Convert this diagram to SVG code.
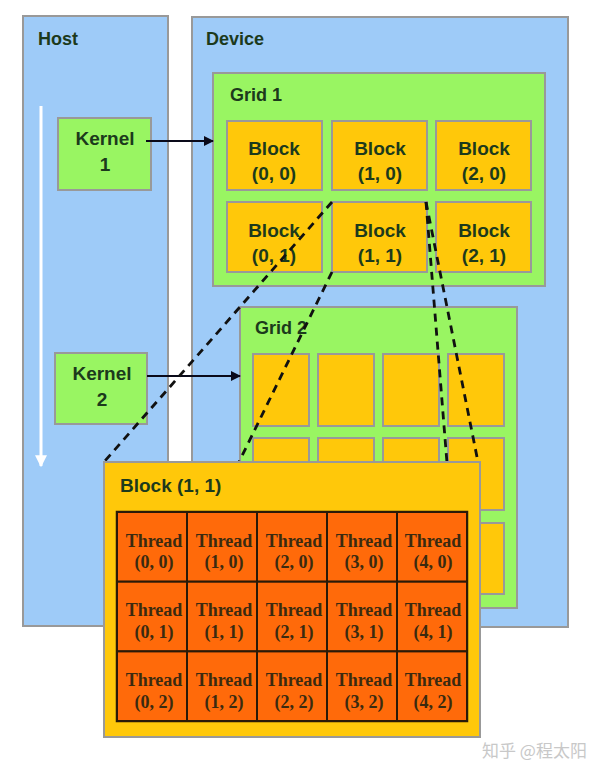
<svg xmlns="http://www.w3.org/2000/svg" width="612" height="779" viewBox="0 0 612 779">
<style>
.host{fill:#9ECBF8;stroke:#999;stroke-width:2}
.grid{fill:#99F562;stroke:#999;stroke-width:2}
.blk{fill:#FFC80A;stroke:#999;stroke-width:2}
.thr{fill:#FF6A0A;stroke:#2a1a08;stroke-width:2}
.t{font-family:"Liberation Sans",Arial,sans-serif;font-weight:bold;fill:#1c3a1c;font-size:18px}
.b{font-size:19px}
.c{text-anchor:middle}
.th{font-family:"Liberation Serif","Times New Roman",serif;font-weight:bold;fill:#3a2a10;font-size:18px;text-anchor:middle}
.dash{stroke:#111;stroke-width:2.8;stroke-dasharray:8 6;fill:none}
.arr{stroke:#0a0a1a;stroke-width:2;fill:none;marker-end:url(#ah)}
</style>
<defs>
<marker id="ah" viewBox="0 0 10 10" refX="9" refY="5" markerWidth="5" markerHeight="5" orient="auto" markerUnits="strokeWidth"><path d="M0,0 L10,5 L0,10 z" fill="#0a0a1a"/></marker>
<marker id="wh" viewBox="0 0 10 10" refX="9" refY="5" markerWidth="4" markerHeight="4" orient="auto" markerUnits="strokeWidth"><path d="M0,0 L10,5 L0,10 z" fill="#fff"/></marker>
</defs>
<rect width="612" height="779" fill="#fff"/>
<g id="host">
<rect class="host" x="23" y="16" width="145" height="610"/>
<text class="t" x="38" y="45">Host</text>
<line x1="41" y1="106" x2="41" y2="466" stroke="#fff" stroke-width="3" marker-end="url(#wh)"/>
</g>
<g id="device">
<rect class="host" x="192" y="17" width="376" height="610"/>
<text class="t" x="206" y="45">Device</text>
</g>
<g id="kernel1">
<rect class="grid" x="58" y="118" width="93" height="72"/>
<text class="t c b" x="105" y="145">Kernel</text>
<text class="t c b" x="105" y="171">1</text>
</g>
<g id="kernel2">
<rect class="grid" x="55" y="353" width="92" height="71"/>
<text class="t c b" x="102" y="380">Kernel</text>
<text class="t c b" x="102" y="406">2</text>
</g>
<g id="grid1">
<rect class="grid" x="213" y="73" width="332" height="213"/>
<text class="t" x="230" y="101">Grid 1</text>
</g>
<g id="block00"><rect class="blk" x="227" y="121" width="95" height="69"/><text class="t c b" x="274" y="155">Block</text><text class="t c b" x="274" y="180">(0, 0)</text></g>
<g id="block10"><rect class="blk" x="332" y="121" width="95" height="69"/><text class="t c b" x="380" y="155">Block</text><text class="t c b" x="380" y="180">(1, 0)</text></g>
<g id="block20"><rect class="blk" x="436" y="121" width="95" height="69"/><text class="t c b" x="484" y="155">Block</text><text class="t c b" x="484" y="180">(2, 0)</text></g>
<g id="block01"><rect class="blk" x="227" y="202" width="95" height="70"/><text class="t c b" x="274" y="237">Block</text><text class="t c b" x="274" y="262">(0, 1)</text></g>
<g id="block11"><rect class="blk" x="332" y="202" width="95" height="70"/><text class="t c b" x="380" y="237">Block</text><text class="t c b" x="380" y="262">(1, 1)</text></g>
<g id="block21"><rect class="blk" x="436" y="202" width="95" height="70"/><text class="t c b" x="484" y="237">Block</text><text class="t c b" x="484" y="262">(2, 1)</text></g>
<g id="grid2">
<rect class="grid" x="240" y="307" width="277" height="301"/>
<text class="t" x="255" y="334">Grid 2</text>
<rect class="blk" x="253" y="354" width="56" height="72"/>
<rect class="blk" x="318" y="354" width="56" height="72"/>
<rect class="blk" x="383" y="354" width="56" height="72"/>
<rect class="blk" x="448" y="354" width="56" height="72"/>
<rect class="blk" x="253" y="438" width="56" height="72"/>
<rect class="blk" x="318" y="438" width="56" height="72"/>
<rect class="blk" x="383" y="438" width="56" height="72"/>
<rect class="blk" x="448" y="438" width="56" height="72"/>
<rect class="blk" x="253" y="523" width="56" height="71"/>
<rect class="blk" x="318" y="523" width="56" height="71"/>
<rect class="blk" x="383" y="523" width="56" height="71"/>
<rect class="blk" x="448" y="523" width="56" height="71"/>
</g>
<g id="connectors">
<line class="arr" x1="146" y1="141" x2="213" y2="141"/>
<line class="arr" x1="147" y1="376" x2="240" y2="376"/>
<line class="dash" x1="332" y1="202" x2="104" y2="462"/>
<line class="dash" x1="332" y1="272" x2="239" y2="462"/>
<line class="dash" x1="426" y1="202" x2="447" y2="463"/>
<line class="dash" x1="426" y1="202" x2="478" y2="462"/>
</g>
<g id="block11-detail">
<rect x="104" y="462" width="376" height="275" fill="#FFC80A" stroke="#999" stroke-width="2"/>
<text class="t b" x="120" y="492">Block (1, 1)</text>
<rect x="117" y="512" width="350" height="209" fill="#FF6A0A" stroke="#2a1a08" stroke-width="2.5"/>
<g id="threads">
<rect class="thr" x="117" y="512" width="70" height="69.7"/><text class="th" x="154" y="547">Thread</text><text class="th" x="154" y="568">(0, 0)</text>
<rect class="thr" x="187" y="512" width="70" height="69.7"/><text class="th" x="224" y="547">Thread</text><text class="th" x="224" y="568">(1, 0)</text>
<rect class="thr" x="257" y="512" width="70" height="69.7"/><text class="th" x="294" y="547">Thread</text><text class="th" x="294" y="568">(2, 0)</text>
<rect class="thr" x="327" y="512" width="70" height="69.7"/><text class="th" x="364" y="547">Thread</text><text class="th" x="364" y="568">(3, 0)</text>
<rect class="thr" x="397" y="512" width="70" height="69.7"/><text class="th" x="433" y="547">Thread</text><text class="th" x="433" y="568">(4, 0)</text>
<rect class="thr" x="117" y="581.7" width="70" height="69.7"/><text class="th" x="154" y="616">Thread</text><text class="th" x="154" y="638">(0, 1)</text>
<rect class="thr" x="187" y="581.7" width="70" height="69.7"/><text class="th" x="224" y="616">Thread</text><text class="th" x="224" y="638">(1, 1)</text>
<rect class="thr" x="257" y="581.7" width="70" height="69.7"/><text class="th" x="294" y="616">Thread</text><text class="th" x="294" y="638">(2, 1)</text>
<rect class="thr" x="327" y="581.7" width="70" height="69.7"/><text class="th" x="364" y="616">Thread</text><text class="th" x="364" y="638">(3, 1)</text>
<rect class="thr" x="397" y="581.7" width="70" height="69.7"/><text class="th" x="433" y="616">Thread</text><text class="th" x="433" y="638">(4, 1)</text>
<rect class="thr" x="117" y="651.4" width="70" height="69.6"/><text class="th" x="154" y="686">Thread</text><text class="th" x="154" y="708">(0, 2)</text>
<rect class="thr" x="187" y="651.4" width="70" height="69.6"/><text class="th" x="224" y="686">Thread</text><text class="th" x="224" y="708">(1, 2)</text>
<rect class="thr" x="257" y="651.4" width="70" height="69.6"/><text class="th" x="294" y="686">Thread</text><text class="th" x="294" y="708">(2, 2)</text>
<rect class="thr" x="327" y="651.4" width="70" height="69.6"/><text class="th" x="364" y="686">Thread</text><text class="th" x="364" y="708">(3, 2)</text>
<rect class="thr" x="397" y="651.4" width="70" height="69.6"/><text class="th" x="433" y="686">Thread</text><text class="th" x="433" y="708">(4, 2)</text>
</g>
</g>
<text x="482" y="757" font-family="'Noto Sans CJK SC',sans-serif" font-size="17" fill="#c8c8c8">知乎 @程太阳</text>
</svg>
